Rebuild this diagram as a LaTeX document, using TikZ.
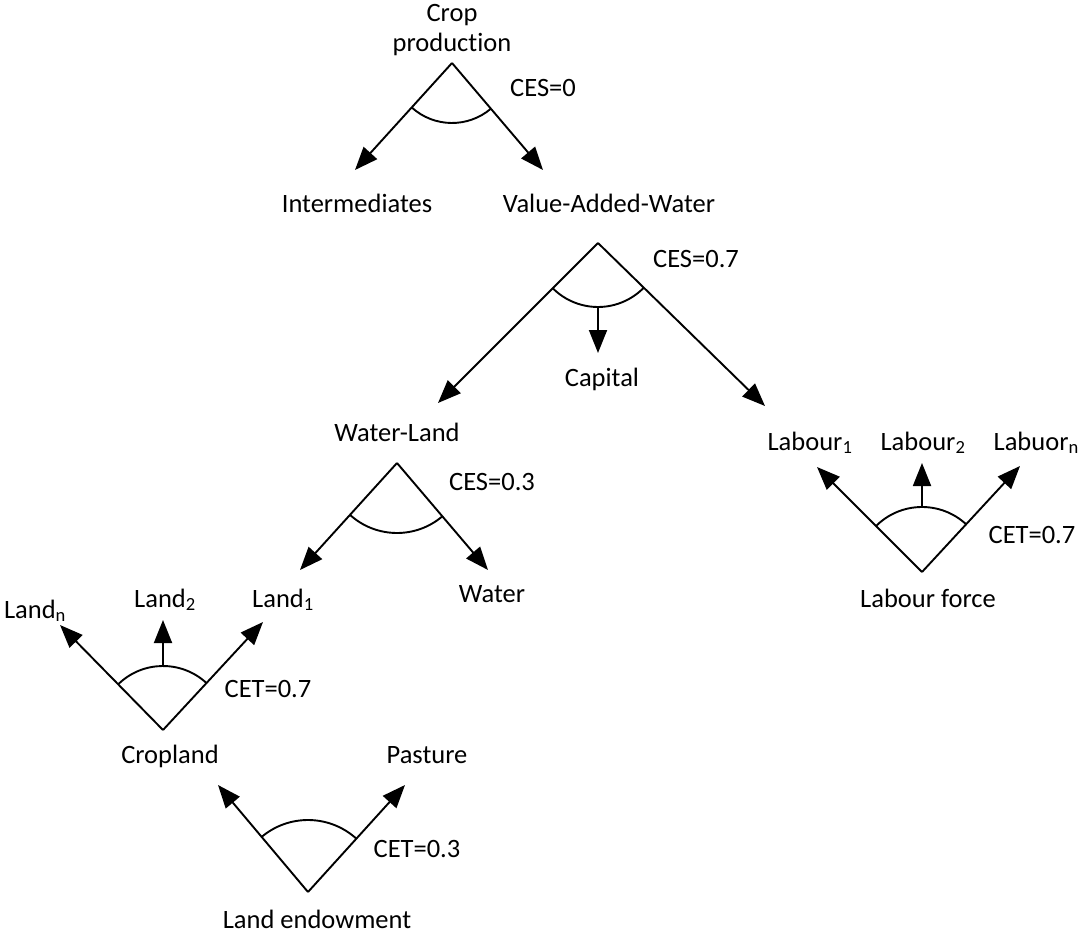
\documentclass[tikz,border=0pt]{standalone}
\usepackage{fontspec}
\setmainfont{Carlito}[Ligatures=NoCommon]
\usetikzlibrary{arrows.meta,calc}
\newcommand\myarc[4]{\draw[arcline] let \p1=($(#2)-(#1)$), \p2=($(#3)-(#1)$), \n1={atan2(\y1,\x1)}, \n2={atan2(\y2,\x2)} in ($(#1)+(\n1:#4pt)$) arc[start angle=\n1, end angle=\n2, radius=#4pt];}
\begin{document}
\begin{tikzpicture}[x=1pt,y=-1pt,
  lbl/.style={anchor=base, inner sep=0pt, font=\fontsize{26.5}{30}\selectfont},
  arr/.style={line width=1.9pt, -{Triangle[length=23pt,width=18pt]}},
  arcline/.style={line width=1.9pt}]
\useasboundingbox (0,0) rectangle (1081,933);
% Tree 1: Crop production
\coordinate (cp) at (452,63);
\coordinate (cpL) at (355,170);
\coordinate (cpR) at (543,170);
\node[lbl, anchor=center, align=center] (cpT) at (452,30) {Crop\\production};
\node[lbl] (ces0) at (543,97) {CES=0};
\node[lbl] (interm) at (357,213) {Intermediates};
\node[lbl] (vawT) at (609,213) {Value-Added-Water};
\draw[arr] (cp) -- (cpL);
\draw[arr] (cp) -- (cpR);
\myarc{cp}{cpL}{cpR}{60}
% Tree 2: Value-Added-Water
\coordinate (vaw) at (598,243);
\coordinate (vawL) at (438,403);
\coordinate (vawR) at (765,406);
\coordinate (vawB) at ($(vaw)+(0,64)$);
\coordinate (capTip) at (598,353);
\node[lbl] (ces07) at (696,268) {CES=0.7};
\node[lbl] (capital) at (602,386) {Capital};
\draw[arr] (vaw) -- (vawL);
\draw[arr] (vaw) -- (vawR);
\draw[arr] (vawB) -- (capTip);
\myarc{vaw}{vawL}{vawR}{64}
% Tree 3: Water-Land
\coordinate (wl) at (397,463);
\coordinate (wlL) at (300,570);
\coordinate (wlR) at (488,570);
\node[lbl] (wlT) at (397,441) {Water-Land};
\node[lbl] (ces03) at (492,490) {CES=0.3};
\node[lbl] (water) at (492,602) {Water};
\node[lbl] (land1) at (283,607) {Land\textsubscript{1}};
\draw[arr] (wl) -- (wlL);
\draw[arr] (wl) -- (wlR);
\myarc{wl}{wlL}{wlR}{70}
% Tree 4: Labour force
\coordinate (lf) at (922,572);
\coordinate (lfL) at (817,467);
\coordinate (lfR) at (1020,466);
\coordinate (lfB) at ($(lf)+(0,-65)$);
\coordinate (lfM) at (922,463);
\node[lbl] (lab1) at (810,450) {Labour\textsubscript{1}};
\node[lbl] (lab2) at (923,450) {Labour\textsubscript{2}};
\node[lbl, anchor=base east] (labn) at (1079,450) {Labuor\textsubscript{n}};
\node[lbl] (cet07b) at (1032,543) {CET=0.7};
\node[lbl] (lfT) at (928,607) {Labour force};
\draw[arr] (lf) -- (lfL);
\draw[arr] (lf) -- (lfR);
\draw[arr] (lfB) -- (lfM);
\myarc{lf}{lfL}{lfR}{65}
% Tree 5: Cropland
\coordinate (cl) at (163,730);
\coordinate (clL) at (60,625);
\coordinate (clR) at (263,622);
\coordinate (clB) at ($(cl)+(0,-64)$);
\coordinate (clM) at (163,620);
\node[lbl] (land2) at (165,607) {Land\textsubscript{2}};
\node[lbl] (landn) at (35,618) {Land\textsubscript{n}};
\node[lbl] (cet07a) at (268,697) {CET=0.7};
\node[lbl] (cropland) at (170,763) {Cropland};
\draw[arr] (cl) -- (clL);
\draw[arr] (cl) -- (clR);
\draw[arr] (clB) -- (clM);
\myarc{cl}{clL}{clR}{64}
% Tree 6: Land endowment
\coordinate (le) at (308,892);
\coordinate (leL) at (218,785);
\coordinate (leR) at (405,785);
\node[lbl] (pasture) at (427,763) {Pasture};
\node[lbl] (cet03) at (417,857) {CET=0.3};
\node[lbl] (leT) at (317,928) {Land endowment};
\draw[arr] (le) -- (leL);
\draw[arr] (le) -- (leR);
\myarc{le}{leL}{leR}{72}
\end{tikzpicture}
\end{document}
